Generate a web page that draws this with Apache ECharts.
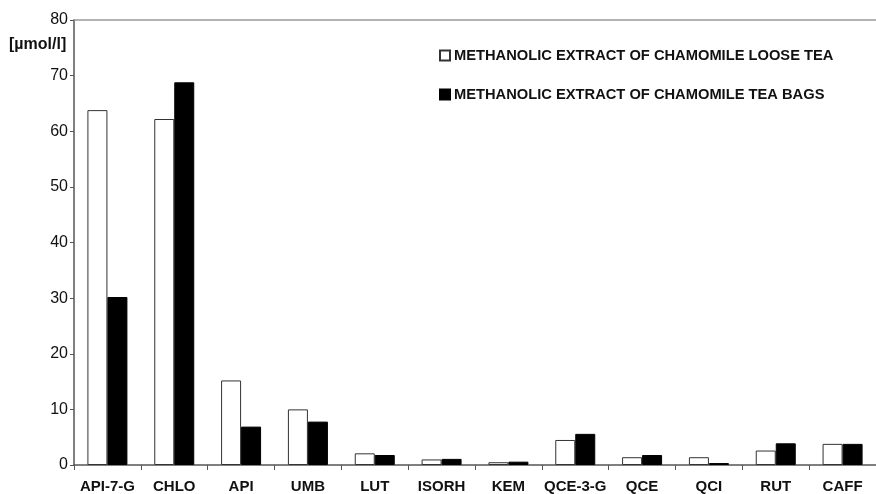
<!DOCTYPE html>
<html>
<head>
<meta charset="utf-8">
<script src="https://cdn.jsdelivr.net/npm/echarts@6/dist/echarts.min.js"></script>
<style>
  html, body { margin: 0; padding: 0; background: #fff; }
  #chart { width: 876px; height: 494px; }
</style>
</head>
<body>
<div id="chart"></div>
<script>
// Compounds measured
const categories = ['API-7-G', 'CHLO', 'API', 'UMB', 'LUT', 'ISORH', 'KEM', 'QCE-3-G', 'QCE', 'QCI', 'RUT', 'CAFF'];
// Concentrations in µmol/l
const looseTea = [63.8, 62.2, 15.2, 10.0, 2.1, 1.0, 0.5, 4.5, 1.4, 1.4, 2.6, 3.8];
const teaBags  = [30.2, 68.8, 6.9, 7.8, 1.8, 1.1, 0.6, 5.6, 1.8, 0.35, 3.9, 3.8];
const yTicks = [0, 10, 20, 30, 40, 50, 60, 70, 80];
const seriesNames = ['METHANOLIC EXTRACT OF CHAMOMILE LOOSE TEA', 'METHANOLIC EXTRACT OF CHAMOMILE TEA BAGS'];
const unitLabel = '[µmol/l]';

const font = '"Liberation Sans", Arial, sans-serif';
const chart = echarts.init(document.getElementById('chart'));

chart.setOption({
  animation: false,
  backgroundColor: '#fff',
  textStyle: { fontFamily: font },
  grid: { left: 74, top: 20, width: 810, height: 445, containLabel: false },
  legend: {
    orient: 'vertical',
    left: 434,
    top: 43,
    itemWidth: 10,
    itemHeight: 10,
    itemGap: 24,
    icon: 'rect',
    textStyle: { fontFamily: font, fontSize: 14.7, fontWeight: 'bold', color: '#111', padding: [0, 0, 0, -1] },
    data: seriesNames
  },
  graphic: [{
    type: 'text',
    left: 9,
    top: 37,
    style: { text: unitLabel, font: 'bold 16px ' + font, fill: '#111' }
  }],
  xAxis: [{
    type: 'category',
    data: categories,
    position: 'bottom',
    axisLine: { lineStyle: { color: '#555', width: 1.5 } },
    axisTick: { show: true, length: 5, alignWithLabel: false, lineStyle: { color: '#555' } },
    axisLabel: { color: '#111', fontFamily: font, fontSize: 15, fontWeight: 'bold', margin: 14, interval: 0 }
  }, {
    type: 'category',
    data: categories,
    position: 'top',
    axisLine: { lineStyle: { color: '#999', width: 1.5 } },
    axisTick: { show: false },
    axisLabel: { show: false }
  }],
  yAxis: {
    type: 'value',
    min: yTicks[0],
    max: yTicks[yTicks.length - 1],
    interval: 10,
    axisLine: { show: true, lineStyle: { color: '#555', width: 1.5 } },
    axisTick: { show: true, length: 4, inside: false, lineStyle: { color: '#555' } },
    axisLabel: { color: '#111', fontFamily: font, fontSize: 16, margin: 6 },
    splitLine: { show: false }
  },
  series: [{
    name: seriesNames[0],
    type: 'bar',
    data: looseTea,
    barWidth: 20,
    barGap: '0%',
    itemStyle: { color: '#fff', borderColor: '#333', borderWidth: 1 }
  }, {
    name: seriesNames[1],
    type: 'bar',
    data: teaBags,
    barWidth: 20,
    itemStyle: { color: '#000', borderColor: '#000', borderWidth: 1 }
  }]
});
</script>
</body>
</html>
